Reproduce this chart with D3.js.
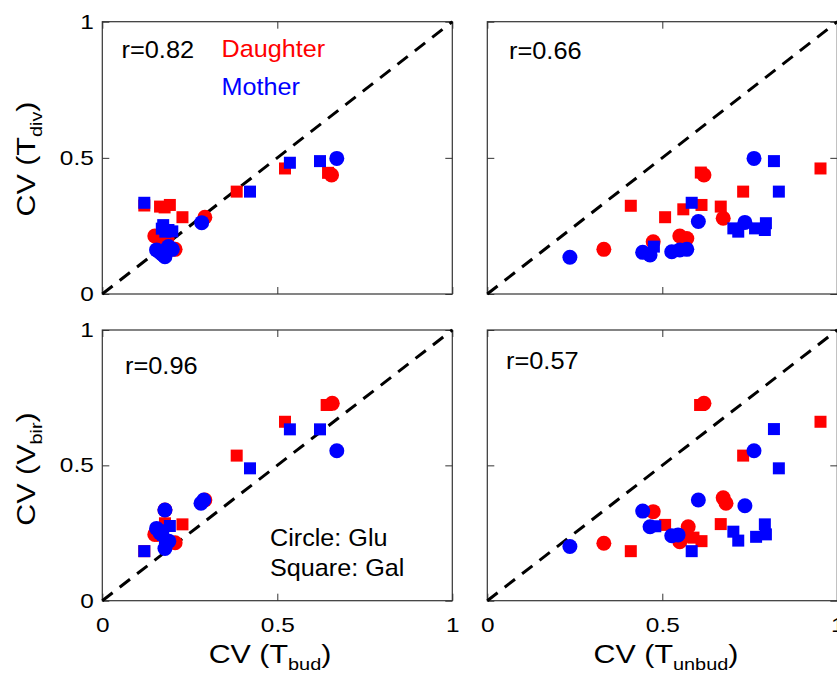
<!DOCTYPE html>
<html>
<head>
<meta charset="utf-8">
<script src="https://cdn.jsdelivr.net/npm/d3@7"></script>
<style>
body { margin: 0; background: #fff; }
text { font-family: Arial, "Liberation Sans", sans-serif; }
</style>
</head>
<body>
<svg id="chart" width="837" height="675"></svg>
<script>
// values, [x, y]
// top-left: CV(T_bud) vs CV(T_div)
var divBudDaughterGlu = [[0.655,0.437],[0.293,0.282],[0.150,0.213],[0.208,0.164],[0.17,0.19],[0.185,0.205]];
var divBudDaughterGal = [[0.522,0.461],[0.384,0.376],[0.165,0.321],[0.193,0.327],[0.229,0.282],[0.12,0.325],[0.178,0.318],[0.645,0.445]];
var divBudMotherGlu = [[0.670,0.498],[0.284,0.262],[0.155,0.162],[0.179,0.137],[0.189,0.174],[0.165,0.153],[0.172,0.145],[0.2,0.164]];
var divBudMotherGal = [[0.536,0.482],[0.622,0.488],[0.422,0.376],[0.12,0.335],[0.174,0.253],[0.189,0.235],[0.18,0.229],[0.17,0.24],[0.2,0.23]];

// top-right: CV(T_unbud) vs CV(T_div)
var divUnbudDaughterGlu = [[0.619,0.437],[0.674,0.278],[0.55,0.213],[0.57,0.204],[0.474,0.192],[0.333,0.164]];
var divUnbudDaughterGal = [[0.952,0.461],[0.61,0.446],[0.731,0.376],[0.41,0.324],[0.508,0.282],[0.56,0.311],[0.612,0.327],[0.667,0.321]];
var divUnbudMotherGlu = [[0.762,0.498],[0.603,0.266],[0.736,0.263],[0.444,0.153],[0.465,0.143],[0.527,0.155],[0.55,0.162],[0.57,0.164],[0.236,0.135]];
var divUnbudMotherGal = [[0.819,0.488],[0.833,0.376],[0.584,0.335],[0.703,0.241],[0.717,0.229],[0.765,0.241],[0.793,0.235],[0.796,0.26],[0.476,0.174]];

// bottom-left: CV(T_bud) vs CV(V_bir)
var birBudDaughterGlu = [[0.657,0.729],[0.293,0.372],[0.208,0.214],[0.150,0.245],[0.179,0.335],[0.17,0.26]];
var birBudDaughterGal = [[0.641,0.723],[0.522,0.661],[0.384,0.536],[0.229,0.282],[0.179,0.286],[0.12,0.183],[0.17,0.24]];
var birBudMotherGlu = [[0.670,0.554],[0.282,0.36],[0.29,0.372],[0.179,0.335],[0.155,0.267],[0.179,0.193],[0.165,0.25],[0.19,0.22]];
var birBudMotherGal = [[0.536,0.633],[0.622,0.633],[0.422,0.489],[0.193,0.276],[0.174,0.243],[0.179,0.218],[0.12,0.183],[0.17,0.26]];

// bottom-right: CV(T_unbud) vs CV(V_bir)
var birUnbudDaughterGlu = [[0.619,0.729],[0.674,0.38],[0.682,0.36],[0.474,0.329],[0.574,0.273],[0.55,0.218],[0.333,0.212]];
var birUnbudDaughterGal = [[0.608,0.723],[0.952,0.661],[0.731,0.536],[0.508,0.28],[0.667,0.283],[0.56,0.236],[0.589,0.233],[0.612,0.22],[0.41,0.183]];
var birUnbudMotherGlu = [[0.762,0.554],[0.603,0.372],[0.736,0.351],[0.444,0.331],[0.465,0.273],[0.527,0.24],[0.545,0.243],[0.236,0.2]];
var birUnbudMotherGal = [[0.819,0.634],[0.833,0.489],[0.793,0.282],[0.796,0.245],[0.768,0.236],[0.703,0.255],[0.717,0.222],[0.584,0.183],[0.48,0.275]];

var tickValues = [0, 0.5, 1];
var tickLabels = ["0", "0.5", "1"];
var rValues = ["r=0.82", "r=0.66", "r=0.96", "r=0.57"];
var legendLabels = ["Daughter", "Mother"];
var shapeLabels = ["Circle: Glu", "Square: Gal"];

var red = "#ff0000", blue = "#0000ff";

var svg = d3.select("#chart");

var cols = [{ x0: 102.3, w: 350 }, { x0: 487.3, w: 350 }];
var rows = [{ y0: 21.7, h: 272.3 }, { y0: 330, h: 270.7 }];

var panels = [
    { row: 0, col: 0, r: rValues[0], dG: divBudDaughterGlu, dS: divBudDaughterGal, mG: divBudMotherGlu, mS: divBudMotherGal, rx: 121.5, ry: 58 },
    { row: 0, col: 1, r: rValues[1], dG: divUnbudDaughterGlu, dS: divUnbudDaughterGal, mG: divUnbudMotherGlu, mS: divUnbudMotherGal, rx: 509, ry: 59 },
    { row: 1, col: 0, r: rValues[2], dG: birBudDaughterGlu, dS: birBudDaughterGal, mG: birBudMotherGlu, mS: birBudMotherGal, rx: 125, ry: 374 },
    { row: 1, col: 1, r: rValues[3], dG: birUnbudDaughterGlu, dS: birUnbudDaughterGal, mG: birUnbudMotherGlu, mS: birUnbudMotherGal, rx: 506, ry: 369 }
];

// the original lettering is a bit wider than Arial, stretch it sideways
function label(x, y, size, sx, str, color) {
    return svg.append("text")
	.attr("transform", "translate(" + x + "," + y + ") scale(" + sx + ",1)")
	.attr("font-size", size).attr("fill", color || "#000").text(str);
}

panels.forEach(function (p) {
    var c = cols[p.col], rw = rows[p.row];
    var x = d3.scaleLinear().domain([0, 1]).range([c.x0, c.x0 + c.w]);
    var y = d3.scaleLinear().domain([0, 1]).range([rw.y0 + rw.h, rw.y0]);
    var g = svg.append("g");

    g.append("rect")
	.attr("x", x(0)).attr("y", y(1))
	.attr("width", x(1) - x(0)).attr("height", y(0) - y(1))
	.attr("fill", "none").attr("stroke", "#333").attr("stroke-width", 1.2);

    // inside ticks on all four sides
    var bottom = d3.axisBottom(x).tickValues(tickValues).tickSize(-7).tickPadding(17)
	.tickFormat(function (d, i) { return p.row == 1 ? tickLabels[i] : ""; });
    var left = d3.axisLeft(y).tickValues(tickValues).tickSize(-7).tickPadding(7)
	.tickFormat(function (d, i) { return p.col == 0 ? tickLabels[i] : ""; });
    var top = d3.axisTop(x).tickValues(tickValues).tickSize(-7).tickFormat("");
    var right = d3.axisRight(y).tickValues(tickValues).tickSize(-7).tickFormat("");

    [[bottom, "translate(0," + y(0) + ")"], [left, "translate(" + x(0) + ",0)"],
     [top, "translate(0," + y(1) + ")"], [right, "translate(" + x(1) + ",0)"]].forEach(function (a) {
	var ax = g.append("g").attr("transform", a[1]).call(a[0]);
	ax.select(".domain").remove();
	ax.selectAll("line").attr("stroke", "#333");
	ax.selectAll("text").attr("font-size", 20).attr("fill", "#000")
	    .attr("transform", "scale(1.22,1)")
	    .attr("font-family", "Arial, 'Liberation Sans', sans-serif");
    });

    g.append("line")
	.attr("x1", x(0)).attr("y1", y(0)).attr("x2", x(1)).attr("y2", y(1))
	.attr("stroke", "#000").attr("stroke-width", 3).attr("stroke-dasharray", "13,9");

    function squares(data, color) {
	g.selectAll(null).data(data).enter().append("rect")
	    .attr("x", function (d) { return x(d[0]) - 6; })
	    .attr("y", function (d) { return y(d[1]) - 6; })
	    .attr("width", 12).attr("height", 12).attr("fill", color);
    }
    function circles(data, color) {
	g.selectAll(null).data(data).enter().append("circle")
	    .attr("cx", function (d) { return x(d[0]); })
	    .attr("cy", function (d) { return y(d[1]); })
	    .attr("r", 7.5).attr("fill", color);
    }
    squares(p.dS, red); circles(p.dG, red);
    squares(p.mS, blue); circles(p.mG, blue);

    label(p.rx, p.ry, 23.5, 1.08, p.r);
});

label(221.5, 57, 24, 1.05, legendLabels[0], red);
label(221.5, 95, 24, 1.05, legendLabels[1], blue);
label(270, 546, 24, 1.05, shapeLabels[0]);
label(270, 576, 24, 1.05, shapeLabels[1]);

// axis titles with subscripts
function title(t, sub, tx, ty, rot) {
    var el = svg.append("text").attr("font-size", 26).attr("text-anchor", "middle")
	.attr("transform", "translate(" + tx + "," + ty + ")" + (rot ? " rotate(-90)" : "") + " scale(1.17,1)");
    el.append("tspan").text(t);
    el.append("tspan").attr("font-size", 17).attr("dy", 7).text(sub);
    el.append("tspan").attr("dy", -7).text(")");
}
title("CV (T", "div", 35, 159, true);
title("CV (V", "bir", 35, 469, true);
title("CV (T", "bud", 270, 663, false);
title("CV (T", "unbud", 666, 663, false);
</script>
</body>
</html>
